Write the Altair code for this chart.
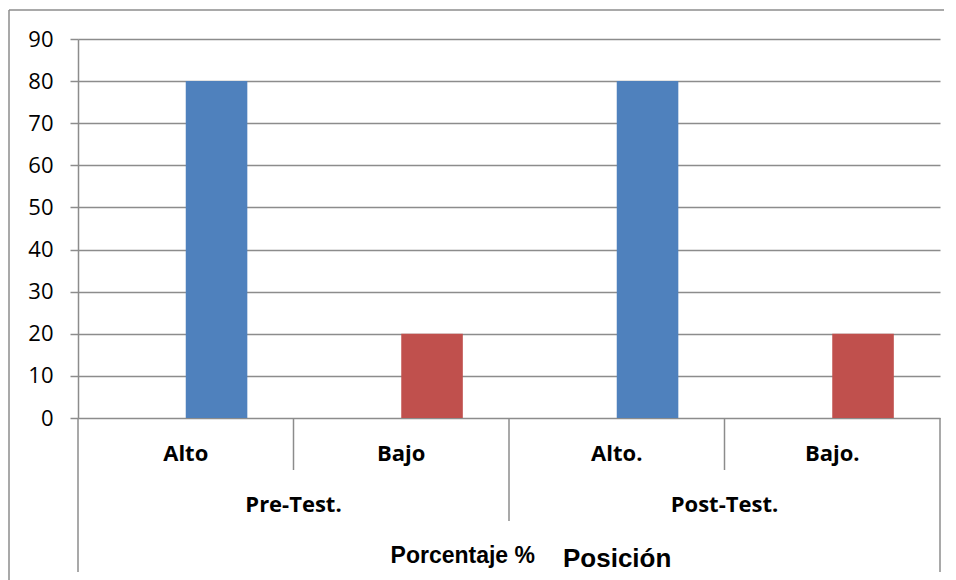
import altair as alt
import pandas as pd

# ---- data ----
categories = ["Alto", "Bajo", "Alto.", "Bajo."]
levels = ["Alto", "Bajo", "Alto", "Bajo"]
values = [80, 20, 80, 20]
groups = ["Pre-Test.", "Post-Test."]
y_ticks = [0, 10, 20, 30, 40, 50, 60, 70, 80, 90]
level_domain = ["Alto", "Bajo"]
level_colors = ["#4f81bd", "#c0504d"]
title_left = "Porcentaje %"
title_right = "Posición"

# ---- style ----
GRAY = "#8c8c8c"
W, H = 862, 379
PAD = {"left": 70, "top": 31, "right": 4, "bottom": 162}
GAP_WIDTH = 1.5          # Excel-like gap width (150 %)
BAR_FRAC = 1 / (2 + GAP_WIDTH)

n = len(categories)
bars_df = pd.DataFrame({
    "cat": categories,
    "level": levels,
    "value": values,
    "x0": [i + 0.5 for i in range(n)],
    "x1": [i + 0.5 + BAR_FRAC for i in range(n)],
})
cat_df = pd.DataFrame({"cat": categories, "xc": [i + 0.5 for i in range(n)]})
grp_df = pd.DataFrame({"grp": groups, "xc": [2 * g + 1 for g in range(len(groups))]})

xscale = alt.Scale(domain=[0, n], nice=False, zero=False)
yscale = alt.Scale(domain=[0, 90], nice=False)

bars = alt.Chart(bars_df).mark_rect().encode(
    x=alt.X("x0:Q", scale=xscale, axis=None),
    x2="x1:Q",
    y=alt.Y("value:Q", scale=yscale, title=None,
            axis=alt.Axis(values=y_ticks, tickSize=8, tickColor=GRAY, tickWidth=1.5,
                          domainColor=GRAY, domainWidth=1.5, grid=True,
                          gridColor=GRAY, gridWidth=1.5, labelFont="Open Sans",
                          labelFontSize=22, labelColor="#000000", labelPadding=17)),
    y2=alt.datum(0),
    color=alt.Color("level:N", scale=alt.Scale(domain=level_domain, range=level_colors),
                    legend=None),
)

def sep(positions, depth):
    return alt.Chart(pd.DataFrame({"pos": positions})).mark_rule(
        color=GRAY, strokeWidth=1.5).encode(
        x=alt.X("pos:Q", scale=xscale, axis=None),
        y=alt.value(H),
        y2=alt.value(H + depth),
    )

cat_sep = sep([1, 3], 52)
group_sep = sep([2], 103)
outer_sep = sep([0, n], 154)

one = pd.DataFrame({"a": [0]})
svg_w = W + PAD["left"] + PAD["right"]
svg_h = H + PAD["top"] + PAD["bottom"]
frame_top = alt.Chart(one).mark_rule(color=GRAY, strokeWidth=1.5).encode(
    x=alt.value(-69), x2=alt.value(svg_w), y=alt.value(-29))
frame_left = alt.Chart(one).mark_rule(color=GRAY, strokeWidth=1.5).encode(
    x=alt.value(-69), y=alt.value(-29), y2=alt.value(svg_h))

cat_text = alt.Chart(cat_df).mark_text(
    font="Open Sans", fontWeight="bold", fontSize=22, baseline="alphabetic",
    align="center", color="#000000").encode(
    x=alt.X("xc:Q", scale=xscale, axis=None), y=alt.value(422), text="cat:N")

grp_text = alt.Chart(grp_df).mark_text(
    font="Open Sans", fontWeight="bold", fontSize=22, baseline="alphabetic",
    align="center", color="#000000").encode(
    x=alt.X("xc:Q", scale=xscale, axis=None), y=alt.value(473), text="grp:N")

t_left = alt.Chart(pd.DataFrame({"t": [title_left]})).mark_text(
    font="Liberation Sans", fontWeight="bold", fontSize=23, baseline="alphabetic",
    align="right", color="#000000").encode(
    x=alt.value(457), y=alt.value(524), text="t:N")
t_right = alt.Chart(pd.DataFrame({"t": [title_right]})).mark_text(
    font="Liberation Sans", fontWeight="bold", fontSize=26, baseline="alphabetic",
    align="left", color="#000000").encode(
    x=alt.value(485), y=alt.value(528), text="t:N")

chart = alt.layer(
    frame_top, frame_left, bars, outer_sep, group_sep, cat_sep,
    cat_text, grp_text, t_left, t_right,
).properties(
    width=W, height=H,
    autosize=alt.AutoSizeParams(type="none"),
    padding=PAD,
    background="white",
).configure_view(stroke=None)

chart.save("out.html", embed_options={"renderer": "svg", "actions": False})
